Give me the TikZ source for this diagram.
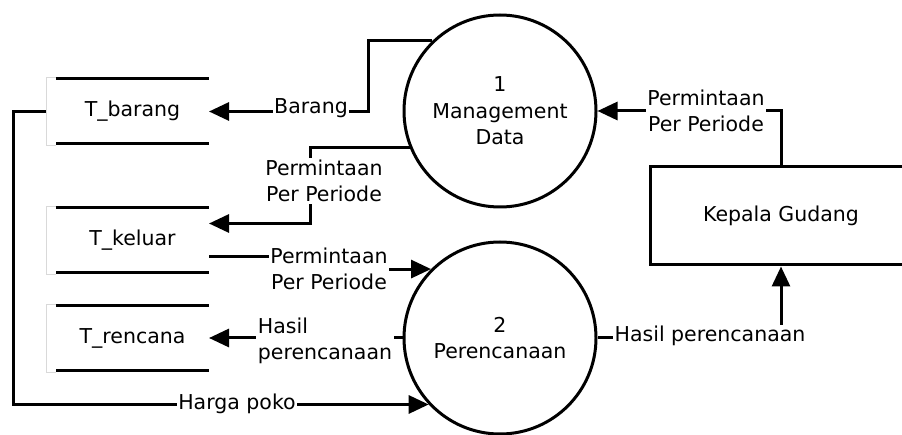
\documentclass[tikz,border=0pt]{standalone}
\usepackage{fontspec}
\setmainfont{DejaVu Sans}
\usetikzlibrary{arrows.meta,calc}
\begin{document}
\begin{tikzpicture}[x=1pt,y=-1pt,
  every node/.style={font=\fontsize{20.5}{26.5}\selectfont, inner sep=0pt, outer sep=0pt},
  proc/.style={circle, draw, line width=3pt, minimum size=192pt, align=center, outer sep=1.5pt},
  store/.style={minimum width=153pt, minimum height=65pt},
  storeline/.style={line width=3pt},
  storeedge/.style={draw=black!15, line width=0.8pt},
  ext/.style={draw, line width=3pt, minimum width=262pt, minimum height=98pt, outer sep=1.5pt},
  flow/.style={line width=3pt, -{Triangle[length=20pt,width=18pt]}},
  lbl/.style={fill=white, inner sep=1.5pt, align=center},
]
\useasboundingbox (0,0) rectangle (902,435);

\node[proc] (c1) at (500,111) {1\\Management\\Data};
\node[proc] (c2) at (500,338) {2\\Perencanaan};
\node[ext] (kg) at (781,216) {Kepala Gudang};
\node[store] (tb) at (132.5,111.5) {T\_barang};
\node[store] (tk) at (132.5,240.5) {T\_keluar};
\node[store] (tr) at (132.5,338.5) {T\_rencana};

\foreach \s in {tb,tk,tr}{
  \draw[storeline] (\s.north west) -- (\s.north east);
  \draw[storeline] (\s.south west) -- (\s.south east);
  \draw[storeedge] ($(\s.north west)+(0,-1.5)$) -- ++(-10,0) -- ($(\s.south west)+(-10,1.5)$) -- ++(10,0);
}

\draw[flow] (c1.134) -- ++(-64,0) |- (tb.east);
\draw[flow] ($(tb.west)+(-10,0)$) -- ++(-33,0) |- (c2.223);
\draw[flow] (c1.202) -| ($(tk.east)+(101,-17)$) -- ($(tk.east)+(0,-17)$);
\draw[flow] ($(tk.east)+(0,16.5)$) -- ++(120,0) |- (c2.135);
\draw[flow] (c2.west) -- (c2.west -| tr.east);
\draw[flow] (c2.east) -| (kg.south);
\draw[flow] (kg.north) |- (c1.east);

\node[lbl] (lb1) at (311,108) {Barang};
\node[lbl] (lb2) at (324,181) {Permintaan\\Per Periode};
\node[lbl] (lb3) at (329,269) {Permintaan\\Per Periode};
\node[lbl, align=left] (lb4) at (325,341) {Hasil\\perencanaan};
\node[lbl] (lb5) at (237,404) {Harga poko};
\node[lbl] (lb6) at (706,111) {Permintaan\\Per Periode};
\node[lbl] (lb7) at (710,336) {Hasil perencanaan};
\end{tikzpicture}
\end{document}
